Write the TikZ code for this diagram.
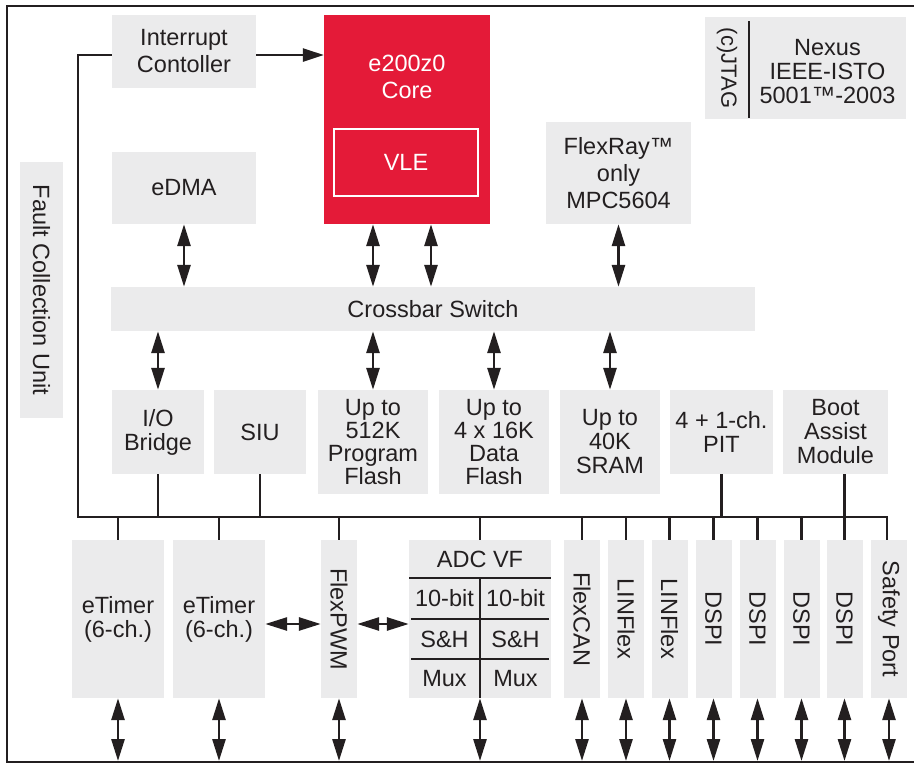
\documentclass[tikz,border=0pt]{standalone}
\usepackage{fontspec}
\setmainfont{Liberation Sans}
\usetikzlibrary{arrows.meta}
\definecolor{blkgray}{HTML}{EBEBEC}
\definecolor{corered}{HTML}{E41A38}
\definecolor{ink}{HTML}{231F20}

\begin{document}
\begin{tikzpicture}
  [x=1pt, y=-1pt,
   txt/.style={font=\fontsize{23.5}{24}\selectfont, text=ink, align=center, inner sep=0pt},
   wide/.style={font=\fontsize{23.5}{27}\selectfont},
   blk/.style 2 args={txt, fill=blkgray, minimum width=#1, minimum height=#2},
   wire/.style={line width=2.7pt, draw=ink},
   biarrow/.style={wire, {Triangle[length=22pt, width=13pt]}-{Triangle[length=22pt, width=13pt]}},
   onearrow/.style={wire, -{Triangle[length=21pt, width=13pt]}}]

  \useasboundingbox (0,0) rectangle (914,763);

  % Marco
  \draw[line width=2.4pt, draw=ink] (930,6) -- (7,6) -- (7,762) -- (930,762);
  \coordinate (fb) at (0,761);

  % Bloques superiores
  \node[blk={144pt}{73pt}, wide] (intc) at (184,51.5) {Interrupt\\Contoller};
  \node[blk={144pt}{72pt}] (edma) at (184,188) {eDMA};
  \node[fill=corered, minimum width=166pt, minimum height=209pt, inner sep=0pt] (core) at (407,119.5) {};
  \node[txt, wide, text=white] (corelbl) at (407,77) {e200z0\\Core};
  \node[txt, text=white, draw=white, line width=2pt, minimum width=144pt, minimum height=67pt] (vle) at (406,162.5) {VLE};
  \node[blk={145pt}{102pt}, wide] (flexray) at (618.5,173) {FlexRay™\\only\\MPC5604};
  \node[blk={201pt}{102pt}] (jtag) at (805.5,68) {};
  \node[txt, font=\fontsize{22}{24}\selectfont] (jtaglbl) at (727,68) {\rotatebox{-90}{(c)JTAG}};
  \node[txt] (nexus) at (827.5,72) {Nexus\\IEEE-ISTO\\5001™-2003};
  \draw[wire] (749,21) -- (749,118);
  \node[blk={43pt}{256pt}] (fcu) at (41.5,290) {\rotatebox{-90}{Fault Collection Unit}};
  \node[blk={644pt}{44pt}] (xbar) at (433,309) {Crossbar Switch};

  % Bloques del medio
  \node[blk={92pt}{84pt}] (iob) at (158,432) {I/O\\Bridge};
  \node[blk={92pt}{84pt}] (siu) at (260,432) {SIU};
  \node[blk={110pt}{104pt}, font=\fontsize{23.5}{23}\selectfont] (pflash) at (373,442) {Up to\\512K\\Program\\Flash};
  \node[blk={110pt}{104pt}, font=\fontsize{23.5}{23}\selectfont] (dflash) at (494,442) {Up to\\4 x 16K\\Data\\Flash};
  \node[blk={100pt}{104pt}] (sram) at (610,442) {Up to\\40K\\SRAM};
  \node[blk={103pt}{84pt}] (pit) at (721.5,432) {4 + 1-ch.\\PIT};
  \node[blk={105pt}{84pt}] (boot) at (835.5,432) {Boot\\Assist\\Module};

  % Perifericos
  \node[blk={92pt}{158pt}] (et1) at (118,619) {eTimer\\(6-ch.)};
  \node[blk={92pt}{158pt}] (et2) at (219,619) {eTimer\\(6-ch.)};
  \node[blk={36pt}{158pt}] (pwm) at (339,619) {\rotatebox{-90}{FlexPWM}};
  \node[blk={142pt}{158pt}] (adc) at (480,619) {};
  \foreach \n/\x/\t in {can/582/FlexCAN, lin1/626/LINFlex, lin2/669.5/LINFlex,
                        dspi1/713.5/DSPI, dspi2/757.5/DSPI, dspi3/801.5/DSPI,
                        dspi4/844.5/DSPI, safety/889/Safety Port}
    \node[blk={36pt}{158pt}] (\n) at (\x,619) {\rotatebox{-90}{\t}};

  % ADC por dentro
  \node[txt] (adcttl) at (480,559) {ADC VF};
  \draw[wire] (409,578) -- (551,578);
  \draw[line width=2.2pt, draw=ink] (411,619) -- (549,619) (411,659) -- (549,659) (480,578) -- (480,698);
  \foreach \s/\cx in {l/444.5, r/515.5} {
    \node[txt] (bit\s) at (\cx,598.5) {10-bit};
    \node[txt] (sh\s) at (\cx,639) {S\&H};
    \node[txt] (mux\s) at (\cx,678.5) {Mux};
  }

  % Bus
  \coordinate (busL) at (78,517);
  \coordinate (busR) at (887,517);
  \draw[wire] ([yshift=-3.5pt]intc.west) -| (busL) -- (busR) -- (safety.north -| busR);
  \foreach \n in {iob, siu, pit}
    \draw[wire] (\n.south) -- (\n.south |- busL);
  \draw[wire] (boot.south -| dspi4.north) -- (dspi4.north);
  \foreach \n in {et1, et2, pwm, adc, can, lin1, lin2, dspi1, dspi2, dspi3}
    \draw[wire] (\n.north) -- (\n.north |- busL);

  % Flechas del crossbar
  \draw[onearrow] ([yshift=-3.5pt]intc.east) -- ([yshift=-3.5pt]intc.east -| core.west);
  \foreach \n in {edma, flexray}
    \draw[biarrow] (\n.south) -- (\n.south |- xbar.north);
  \draw[biarrow] (core.south -| pflash) -- (pflash |- xbar.north);
  \draw[biarrow] ([xshift=24pt]core.south) -- ([xshift=24pt]core.south |- xbar.north);
  \foreach \n in {iob, pflash, dflash, sram}
    \draw[biarrow] (\n.north |- xbar.south) -- (\n.north);

  % Flechas de abajo
  \foreach \n in {et1, et2, pwm, adc, can, lin1, lin2, dspi1, dspi2, dspi3, dspi4, safety}
    \draw[biarrow] (\n.south) -- (\n.south |- fb);
  \draw[biarrow] ([yshift=-5pt]et2.east) -- ([yshift=-5pt]pwm.west);
  \draw[biarrow] ([yshift=-5pt]pwm.east) -- ([yshift=-5pt]adc.west);
\end{tikzpicture}
\end{document}
